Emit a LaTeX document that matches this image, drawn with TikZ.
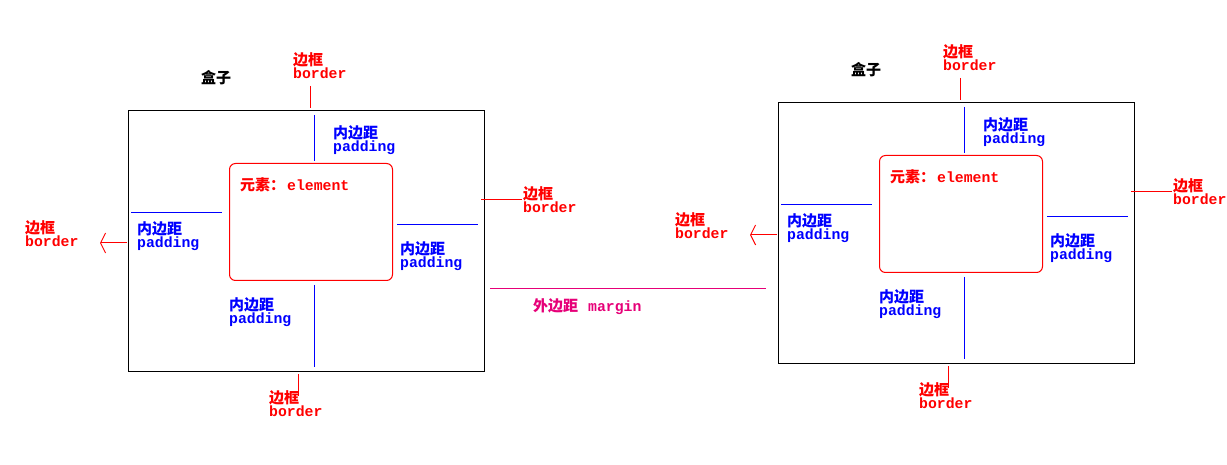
\documentclass[tikz,border=0pt]{standalone}
\usepackage{fontspec}
\newfontfamily\cjk{Noto Sans CJK SC}
\newfontfamily\mono{Liberation Mono}
\usetikzlibrary{arrows.meta}
\definecolor{marginred}{RGB}{230,0,120}
\newcommand\zh[1]{{\cjk\bfseries\fontsize{15}{16}\selectfont #1}}
\newcommand\en[1]{{\mono\bfseries\fontsize{14.8}{16}\selectfont #1}}
\newcommand\twoline[2]{\zh{#1}\\\en{#2}}
\tikzset{lbl/.style={inner sep=0pt,anchor=north west,align=left},
  borderlbl/.style={lbl,text=red},
  padlbl/.style={lbl,text=blue},
  box/.style={draw=black,line width=1pt,inner sep=0pt,anchor=north west},
  elembox/.style={draw=red,line width=1pt,rounded corners=6pt,inner sep=0pt,anchor=north west},
  borderln/.style={draw=red,line width=1pt},
  padln/.style={draw=blue,line width=1pt},
  outarrow/.style={borderln,-{Straight Barb[length=5pt,width=20pt]}}}

\begin{document}
\begin{tikzpicture}[x=1pt,y=-1pt]
\useasboundingbox (0,0) rectangle (1227,465);
% one box on the left, the same one on the right
\foreach \s/\dx/\dy in {l/0/0, r/650/-8} {
  \begin{scope}[shift={(\dx,\dy)}]
    \node[box,minimum width=356pt,minimum height=261pt] (\s box) at (128,110) {};
    \node[elembox,minimum width=163pt,minimum height=117pt] (\s elem) at (229,163) {};
    \node[lbl] (\s title) at (201,70) {\zh{盒子}};
    \node[lbl,text=red] (\s elemtxt) at (240,177) {\zh{元素：}\hspace{2pt}\en{element}};
    % border labels
    \node[borderlbl] (\s btl) at (293,52) {\twoline{边框}{border}};
    \node[borderlbl] (\s bll) at (25,220) {\twoline{边框}{border}};
    \node[borderlbl] (\s brl) at (523,186) {\twoline{边框}{border}};
    \node[borderlbl] (\s bbl) at (269,390) {\twoline{边框}{border}};
    % padding labels
    \node[padlbl] (\s ptl) at (333,125) {\twoline{内边距}{padding}};
    \node[padlbl] (\s pll) at (137,221) {\twoline{内边距}{padding}};
    \node[padlbl] (\s prl) at (400,241) {\twoline{内边距}{padding}};
    \node[padlbl] (\s pbl) at (229,297) {\twoline{内边距}{padding}};
    % tick marks
    \coordinate (\s bt) at (310,86);
    \coordinate (\s bl) at (127,243);
    \coordinate (\s br) at (481,200);
    \coordinate (\s bb) at (298,374);
    \coordinate (\s pt) at (314,115);
    \coordinate (\s pl) at (131,213);
    \coordinate (\s pr) at (397,225);
    \coordinate (\s pb) at (314,285);
    \draw[borderln] (\s bt) -- ++(0,22);
    \draw[outarrow] (\s bl) -- ++(-27,0);
    \draw[borderln] (\s br) -- ++(41,0);
    \draw[borderln] (\s bb) -- ++(0,22);
    \draw[padln] (\s pt) -- ++(0,46);
    \draw[padln] (\s pl) -- ++(91,0);
    \draw[padln] (\s pr) -- ++(81,0);
    \draw[padln] (\s pb) -- ++(0,82);
  \end{scope}
}
% margin between the boxes
\coordinate (mgA) at (490,289);
\coordinate (mgB) at (766,289);
\draw[marginred,line width=1pt] (mgA) -- (mgB);
\node[lbl,text=marginred] (mglbl) at (533,298) {\zh{外边距}\hspace{10pt}\en{margin}};
\end{tikzpicture}
\end{document}
